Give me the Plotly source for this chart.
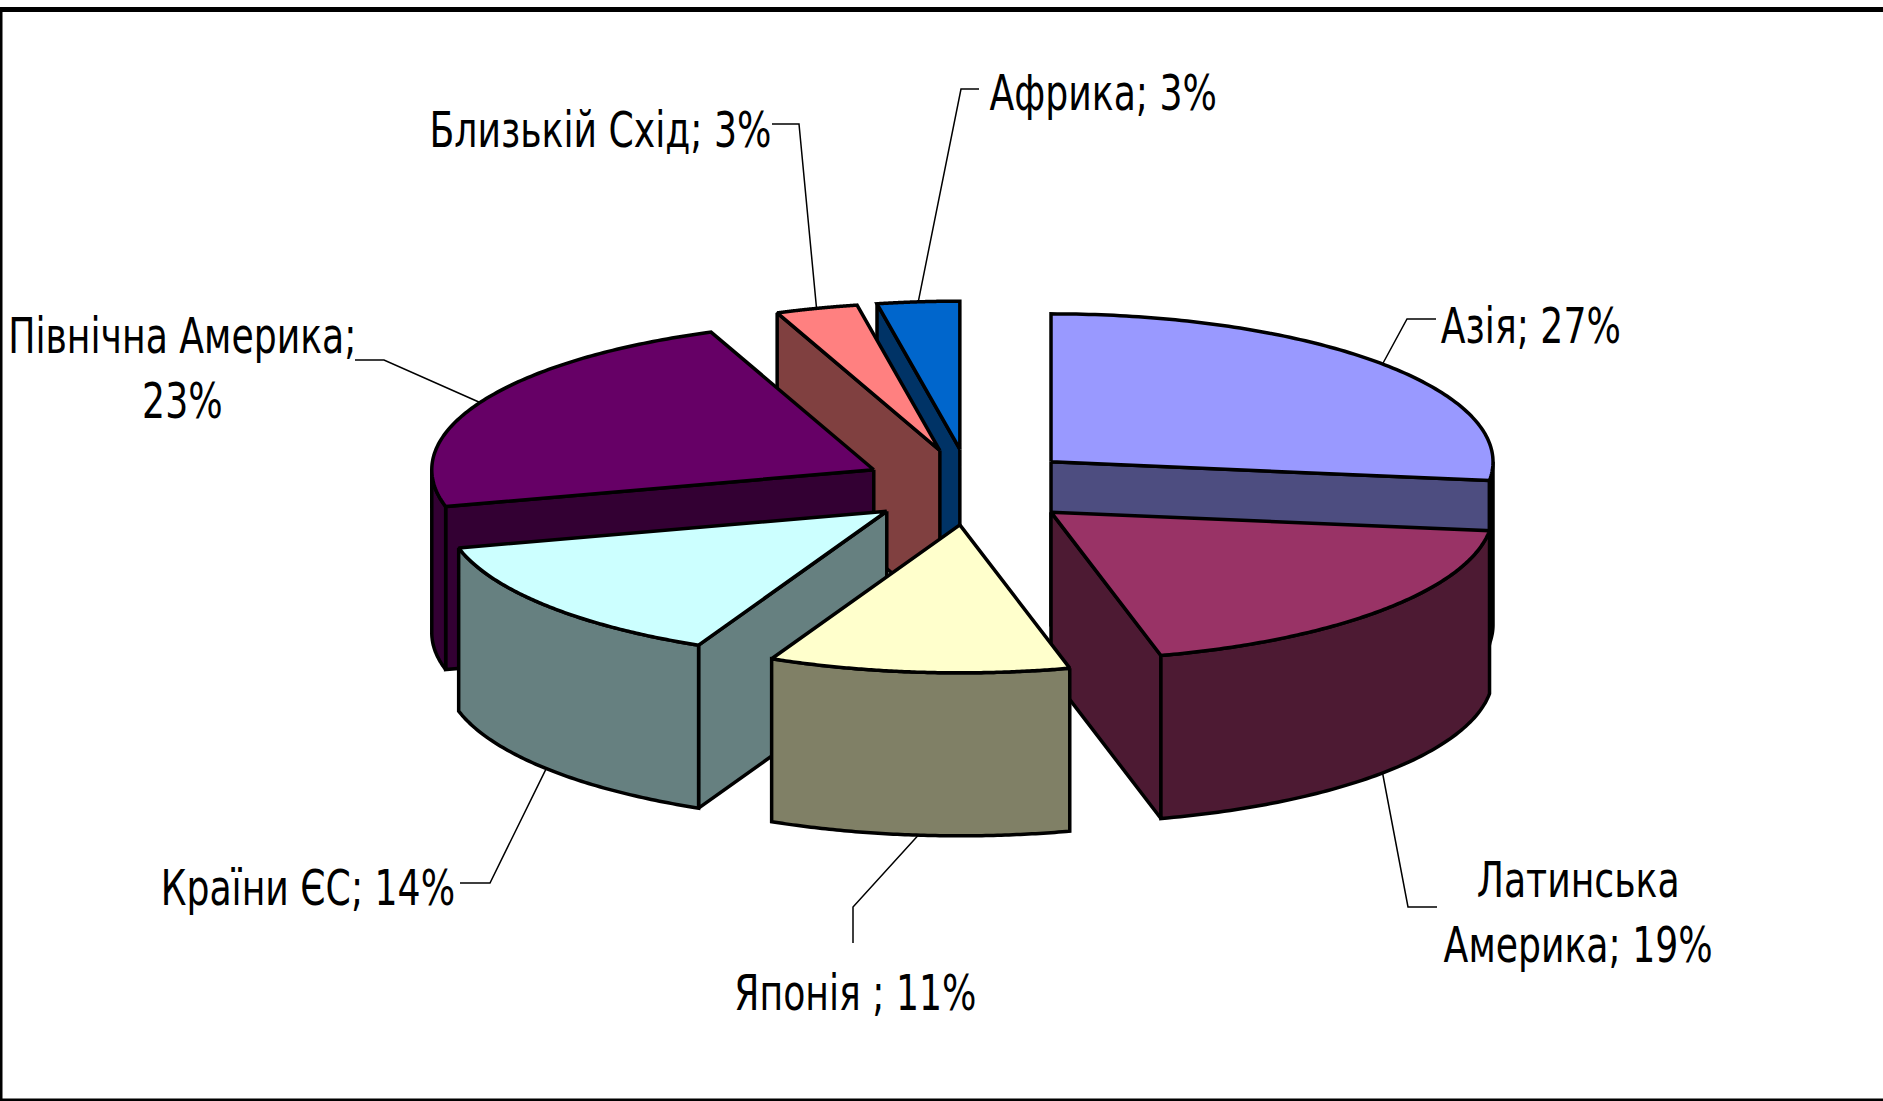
"""Объёмная разрезанная круговая диаграмма: доли регионов."""

import numpy as np
import plotly.graph_objects as go

categories = ["Азія", "Латинська Америка", "Японія", "Країни ЄС", "Північна Америка", "Близькій Схід", "Африка"]
shares = [27, 19, 11, 14, 23, 3, 3]
top_colors = ["#9999FF", "#993366", "#FFFFCC", "#CCFFFF", "#660066", "#FF8080", "#0066CC"]
side_colors = ["#4D4D80", "#4D1A33", "#808066", "#668080", "#330033", "#804040", "#003366"]
label_texts = [
    "Азія; 27%",
    "Латинська<br>Америка; 19%",
    "Японія ; 11%",
    "Країни ЄС; 14%",
    "Північна Америка;<br>23%",
    "Близькій Схід; 3%",
    "Африка; 3%",
]

W, H = 1883, 1101

# геометрия проекции, px
CX, CY = 970, 487
RX, RY = 442, 148
DEPTH = 163
PULL_X, PULL_Y = 108, 38

# порядок рисования: от дальних секторов к ближним
DRAW_ORDER = [6, 5, 0, 4, 1, 3, 2]

# подписи: центр текста и излом выноски
LABELS = [
    dict(x=1531, y=326, bends=[(1407, 319), (1436, 319)]),
    dict(x=1578, y=912, bends=[(1408, 907), (1437, 907)]),
    dict(x=855, y=993, bends=[(853, 907), (853, 943)]),
    dict(x=308, y=888, bends=[(490, 883), (460, 883)]),
    dict(x=182, y=368, bends=[(384, 360), (355, 360)]),
    dict(x=600, y=130, bends=[(799, 124), (772, 124)]),
    dict(x=1103, y=93, bends=[(961, 89), (979, 89)]),
]

edges = np.cumsum([0] + shares) / sum(shares) * 2 * np.pi


def apex(mid):
    return CX + PULL_X * np.sin(mid), CY - PULL_Y * np.cos(mid)


def rim(ax, ay, t, dz=0.0):
    return ax + RX * np.sin(t), ay - RY * np.cos(t) + dz


fig = go.Figure()


def add_poly(xs, ys, color):
    fig.add_trace(
        go.Scatter(
            x=list(xs),
            y=list(ys),
            mode="lines",
            fill="toself",
            fillcolor=color,
            line=dict(color="black", width=3.5, simplify=False),
            hoverinfo="skip",
            showlegend=False,
        )
    )


for i in DRAW_ORDER:
    a0, a1 = edges[i], edges[i + 1]
    ax, ay = apex((a0 + a1) / 2)
    side = side_colors[i]

    # боковые грани, которые видны зрителю
    if np.sin(a0) < 0:
        px, py = rim(ax, ay, a0)
        add_poly([ax, px, px, ax, ax], [ay, py, py + DEPTH, ay + DEPTH, ay], side)
    if np.sin(a1) > 0:
        px, py = rim(ax, ay, a1)
        add_poly([ax, px, px, ax, ax], [ay, py, py + DEPTH, ay + DEPTH, ay], side)

    # внешняя стенка — только передняя часть дуги
    lo, hi = max(a0, np.pi / 2), min(a1, 3 * np.pi / 2)
    if hi > lo:
        t = np.linspace(lo, hi, 80)
        ox, oy = rim(ax, ay, t)
        add_poly(np.r_[ox, ox[::-1], ox[0]], np.r_[oy, oy[::-1] + DEPTH, oy[0]], side)

    # верхняя грань
    t = np.linspace(a0, a1, 120)
    tx, ty = rim(ax, ay, t)
    add_poly(np.r_[ax, tx, ax], np.r_[ay, ty, ay], top_colors[i])

# выноски и подписи
for i, lab in enumerate(LABELS):
    mid = (edges[i] + edges[i + 1]) / 2
    ax, ay = apex(mid)
    sx, sy = rim(ax, ay, mid, DEPTH if np.cos(mid) < 0 else 0.0)
    pts = [(sx, sy)] + lab["bends"]
    fig.add_trace(
        go.Scatter(
            x=[p[0] for p in pts],
            y=[p[1] for p in pts],
            mode="lines",
            line=dict(color="black", width=1.5),
            hoverinfo="skip",
            showlegend=False,
        )
    )
    fig.add_annotation(
        x=lab["x"],
        y=lab["y"],
        text=label_texts[i],
        showarrow=False,
        align="center",
        font=dict(family="DejaVu Sans Condensed, DejaVu Sans, sans-serif", size=50, color="black"),
    )

# рамка рисунка: сверху, слева и снизу, справа её нет
fig.add_shape(type="line", x0=0, x1=W, y0=9.5, y1=9.5, line=dict(color="black", width=5))
fig.add_shape(type="line", x0=1, x1=1, y0=7, y1=H, line=dict(color="black", width=3))
fig.add_shape(type="line", x0=0, x1=W, y0=H - 1, y1=H - 1, line=dict(color="black", width=3))

fig.update_layout(
    width=W,
    height=H,
    margin=dict(l=0, r=0, t=0, b=0),
    paper_bgcolor="white",
    plot_bgcolor="white",
    xaxis=dict(range=[0, W], visible=False, fixedrange=True),
    yaxis=dict(range=[H, 0], visible=False, fixedrange=True),
    showlegend=False,
)

# убрать поля страницы и сжать подписи по ширине, как в оригинале
POST_JS = """
document.body.style.margin = '0';
document.querySelectorAll('.annotation-text').forEach(function (el) {
  el.style.transformBox = 'fill-box';
  el.style.transformOrigin = 'center';
  el.style.transform = 'scaleX(0.805)';
});
"""

fig.write_html("out.html", config=dict(displayModeBar=False), post_script=POST_JS)
